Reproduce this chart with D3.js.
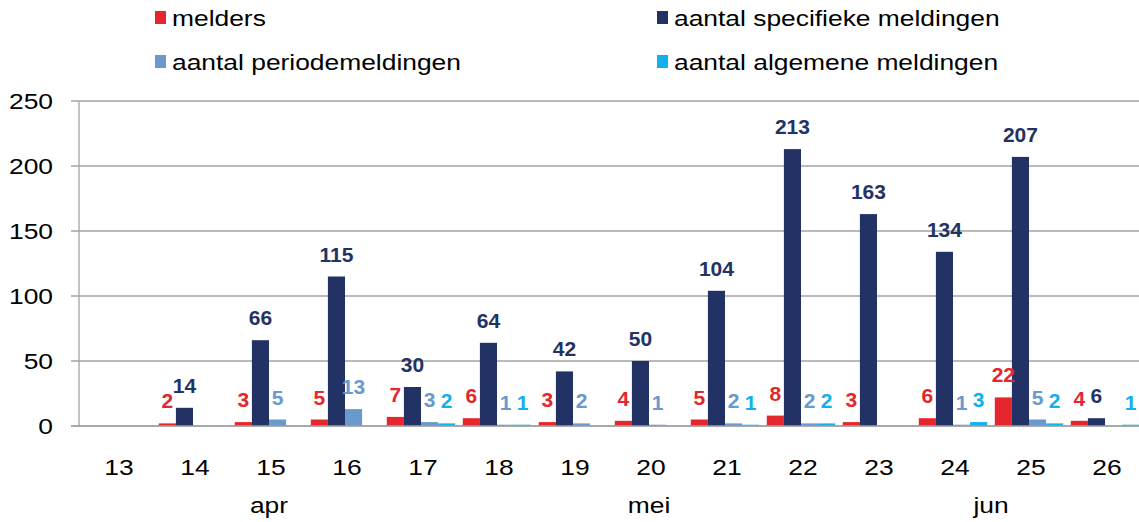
<!DOCTYPE html>
<html>
<head>
<meta charset="utf-8">
<script src="https://cdn.jsdelivr.net/npm/d3@7"></script>
<style>
  body { margin: 0; background: #fff; }
  svg { display: block; font-family: Arial, "Liberation Sans", sans-serif; }
</style>
</head>
<body>
<svg id="chart"></svg>
<script>
var weeks = ["13", "14", "15", "16", "17", "18", "19", "20", "21", "22", "23", "24", "25", "26"];
var melders     = [null, 2, 3, 5, 7, 6, 3, 4, 5, 8, 3, 6, 22, 4];
var specifiek   = [null, 14, 66, 115, 30, 64, 42, 50, 104, 213, 163, 134, 207, 6];
var periode     = [null, null, 5, 13, 3, 1, 2, 1, 2, 2, null, 1, 5, null];
var algemeen    = [null, null, null, null, 2, 1, null, null, 1, 2, null, 3, 2, 1];
var seriesNames = ["melders", "aantal specifieke meldingen", "aantal periodemeldingen", "aantal algemene meldingen"];
var colors      = ["#e5262d", "#233265", "#6b98cd", "#12b0ec"];
var yTicks      = [0, 50, 100, 150, 200, 250];
var months      = [{label: "apr", from: "13", to: "17"}, {label: "mei", from: "18", to: "22"}, {label: "jun", from: "23", to: "26"}];

var width = 1139, height = 522;
var margin = {"left": 79, "right": -4, "top": 101, "bottom": 96};
var sx = 1.2; // the original text is a bit wider than plain Arial

var svg = d3.select("#chart").attr("width", width).attr("height", height);

var x0 = d3.scaleBand()
           .domain(weeks)
           .range([margin.left, width - margin.right])
           .paddingInner(0.1)
           .paddingOuter(0.05);
var x1 = d3.scaleBand()
           .domain(d3.range(4))
           .range([0, x0.bandwidth()]);
var y = d3.scaleLinear()
          .domain([0, 250])
          .range([height - margin.bottom, margin.top]);

function mid(w) { return x0(w) + x0.bandwidth() / 2; }

function wideText(g, xx, yy, txt) {
  return g.append("text")
          .attr("transform", "translate(" + xx + "," + yy + ") scale(" + sx + ",1)")
          .text(txt);
}

// grid
var grid = svg.append("g");
yTicks.forEach(function(t) {
  grid.append("line")
      .attr("x1", margin.left - 8).attr("x2", width)
      .attr("y1", y(t)).attr("y2", y(t))
      .attr("stroke", "#a3a3a3").attr("stroke-width", 1.3);
  wideText(grid, 53, y(t) + 8, t)
      .attr("text-anchor", "end")
      .attr("font-size", 22)
      .attr("fill", "#000");
});
grid.append("line")
    .attr("x1", margin.left).attr("x2", margin.left)
    .attr("y1", y(250)).attr("y2", y(0))
    .attr("stroke", "#a3a3a3").attr("stroke-width", 1.3);

// bars
var allSeries = [melders, specifiek, periode, algemeen];
var rows = [];
weeks.forEach(function(w, i) {
  allSeries.forEach(function(s, k) {
    if (s[i] != null) rows.push({week: w, k: k, value: s[i]});
  });
});

svg.append("g").selectAll("rect")
   .data(rows)
   .join("rect")
   .attr("x", function(d) { return x0(d.week) + x1(d.k); })
   .attr("width", x1.bandwidth())
   .attr("y", function(d) { return y(d.value); })
   .attr("height", function(d) { return y(0) - y(d.value); })
   .attr("fill", function(d) { return colors[d.k]; });

svg.append("g").selectAll("text")
   .data(rows)
   .join("text")
   .attr("x", function(d) { return x0(d.week) + x1(d.k) + x1.bandwidth() / 2; })
   .attr("y", function(d) { return y(d.value) - 15; })
   .attr("text-anchor", "middle")
   .attr("font-size", 21)
   .attr("font-weight", "bold")
   .attr("fill", function(d) { return colors[d.k]; })
   .text(function(d) { return d.value; });

// x axis line redrawn over bars
svg.append("line")
   .attr("x1", margin.left - 8).attr("x2", width)
   .attr("y1", y(0)).attr("y2", y(0))
   .attr("stroke", "#a3a3a3").attr("stroke-width", 1.3);

// category labels
var xl = svg.append("g").attr("font-size", 22).attr("fill", "#000");
weeks.forEach(function(w) {
  wideText(xl, mid(w) + 2, 475, w).attr("text-anchor", "middle");
});
months.forEach(function(m) {
  wideText(xl, (mid(m.from) + mid(m.to)) / 2, 513, m.label).attr("text-anchor", "middle");
});

// legend
var legendX = [155, 657], legendY = [18, 62];
var lg = svg.append("g").attr("font-size", 22);
seriesNames.forEach(function(name, k) {
  var lx = legendX[k % 2], ly = legendY[Math.floor(k / 2)];
  lg.append("rect")
    .attr("x", lx).attr("y", ly - 7)
    .attr("width", 11).attr("height", 13)
    .attr("fill", colors[k]);
  wideText(lg, lx + 17, ly + 8, name).attr("fill", "#000");
});
</script>
</body>
</html>
